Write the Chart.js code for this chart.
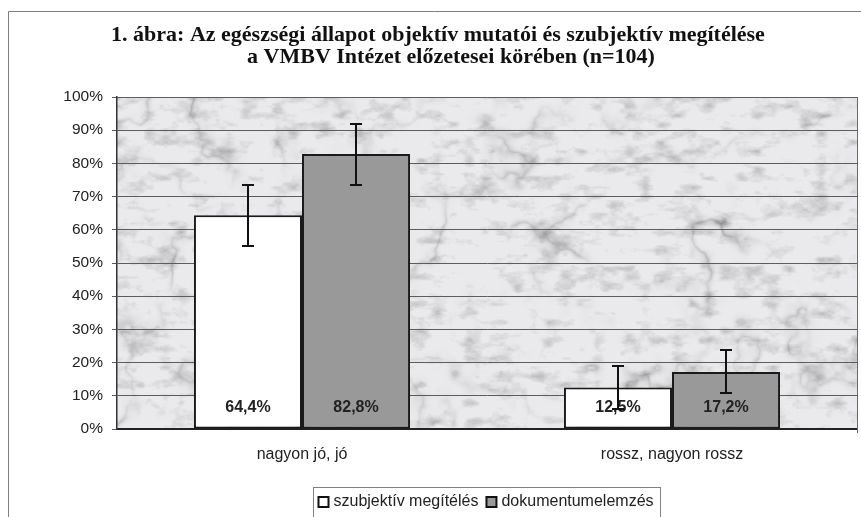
<!DOCTYPE html>
<html>
<head>
<meta charset="utf-8">
<script src="https://cdn.jsdelivr.net/npm/chart.js@4.4.1/dist/chart.umd.min.js"></script>
<style>
html, body { margin: 0; padding: 0; background: #fff; }
</style>
</head>
<body>
<canvas id="myChart" width="861" height="517"></canvas>
<script>
let categories = ['nagyon jó, jó', 'rossz, nagyon rossz']
let seriesNames = ['szubjektív megítélés', 'dokumentumelemzés']
let subjective = [64.4, 12.5]
let documents = [82.8, 17.2]
// error bar half widths
let subjectiveErr = [9.2, 6.4]
let documentsErr = [9.2, 6.5]
let yTicks = [0, 10, 20, 30, 40, 50, 60, 70, 80, 90, 100]
let titleLines = [
	'1. ábra: Az egészségi állapot objektív mutatói és szubjektív megítélése',
	'a VMBV Intézet előzetesei körében (n=104)'
]

const SANS = 'Arial, "Liberation Sans", sans-serif'
const SERIF = '"Liberation Serif", "Times New Roman", serif'

// --- marble background, deterministic value noise ---
function hash(ix, iy) {
	let h = Math.imul(ix, 374761393) + Math.imul(iy, 668265263)
	h = Math.imul(h ^ (h >>> 13), 1274126177)
	h = h ^ (h >>> 16)
	return (h & 0xffff) / 0xffff
}
function noise(x, y) {
	let ix = Math.floor(x), iy = Math.floor(y)
	let fx = x - ix, fy = y - iy
	let sx = fx * fx * (3 - 2 * fx), sy = fy * fy * (3 - 2 * fy)
	let a = hash(ix, iy), b = hash(ix + 1, iy)
	let c = hash(ix, iy + 1), d = hash(ix + 1, iy + 1)
	return a + (b - a) * sx + (c - a) * sy + (a - b - c + d) * sx * sy
}
function fbm(x, y) {
	let v = 0, amp = 0.5, f = 1
	for (let i = 0; i < 5; i++) {
		v += amp * noise(x * f, y * f)
		f *= 2
		amp *= 0.5
	}
	return v
}
let marbleCache = null
function marble(w, h) {
	if (marbleCache && marbleCache.width == w && marbleCache.height == h) return marbleCache
	let c = document.createElement('canvas')
	c.width = w
	c.height = h
	let cx = c.getContext('2d')
	let img = cx.createImageData(w, h)
	for (let y = 0; y < h; y++) {
		for (let x = 0; x < w; x++) {
			let n = fbm(x / 90, y / 90)
			let t = (x * 0.9 + y * 1.1) / 55 + n * 10
			let s = Math.abs(Math.sin(t))
			let streak = Math.pow(1 - s, 4) * Math.max(0, fbm(x / 50 + 9, y / 50 + 3) - 0.3) * 2
			let fine = Math.max(0, fbm(x / 16 + 50, y / 9 + 21) - 0.5) * 2
			let v = 234 - streak * 55 - fine * 55
			let i = (y * w + x) * 4
			img.data[i] = v
			img.data[i + 1] = v
			img.data[i + 2] = v + 3
			img.data[i + 3] = 255
		}
	}
	cx.putImageData(img, 0, 0)
	marbleCache = c
	return c
}

function fmt(v) {
	return v.toFixed(1).replace('.', ',') + '%'
}

const decor = {
	id: 'decor',
	beforeDraw(chart) {
		const ctx = chart.ctx
		const a = chart.chartArea
		ctx.save()
		ctx.fillStyle = '#fff'
		ctx.fillRect(0, 0, chart.width, chart.height)
		// outer frame
		ctx.strokeStyle = '#808080'
		ctx.lineWidth = 1
		ctx.beginPath()
		ctx.moveTo(8.5, chart.height)
		ctx.lineTo(8.5, 11.5)
		ctx.lineTo(chart.width, 11.5)
		ctx.stroke()
		ctx.drawImage(marble(Math.round(a.right - a.left), Math.round(a.bottom - a.top)), a.left, a.top)
		ctx.restore()
	},
	afterDatasetsDraw(chart) {
		const ctx = chart.ctx
		const a = chart.chartArea
		const y = chart.scales.y
		ctx.save()
		// plot right border
		ctx.strokeStyle = '#6a6a6a'
		ctx.lineWidth = 1
		ctx.beginPath()
		ctx.moveTo(a.right + 0.5, a.top)
		ctx.lineTo(a.right + 0.5, a.bottom + 4)
		ctx.stroke()
		// value labels
		ctx.font = 'bold 16px ' + SANS
		ctx.fillStyle = '#222'
		ctx.textAlign = 'center'
		ctx.textBaseline = 'middle'
		chart.data.datasets.forEach((ds, di) => {
			chart.getDatasetMeta(di).data.forEach((bar, i) => {
				ctx.fillText(fmt(ds.data[i]), bar.x, y.getPixelForValue(0) - 21)
			})
		})
		// error bars
		ctx.strokeStyle = '#111'
		ctx.lineWidth = 2
		chart.data.datasets.forEach((ds, di) => {
			chart.getDatasetMeta(di).data.forEach((bar, i) => {
				let v = ds.data[i], e = ds.errors[i]
				let hi = Math.round(y.getPixelForValue(v + e))
				let lo = Math.round(y.getPixelForValue(v - e))
				let x = Math.round(bar.x)
				ctx.beginPath()
				ctx.moveTo(x, hi)
				ctx.lineTo(x, lo)
				ctx.moveTo(x - 6, hi)
				ctx.lineTo(x + 6, hi)
				ctx.moveTo(x - 6, lo)
				ctx.lineTo(x + 6, lo)
				ctx.stroke()
			})
		})
		ctx.restore()
	},
	afterDraw(chart) {
		const ctx = chart.ctx
		const a = chart.chartArea
		ctx.save()
		// title
		ctx.font = 'bold 22px ' + SERIF
		ctx.fillStyle = '#111'
		ctx.textAlign = 'center'
		ctx.textBaseline = 'alphabetic'
		ctx.fillText(titleLines[0], 438, 41)
		ctx.fillText(titleLines[1], 451, 63)
		// legend
		ctx.font = '16px ' + SANS
		ctx.textAlign = 'left'
		ctx.textBaseline = 'middle'
		const sq = 10
		let widths = chart.data.datasets.map(ds => ctx.measureText(ds.label).width)
		let total = 5 + widths.reduce((s, w) => s + sq + 5 + w, 0) + 8 * (widths.length - 1) + 7
		let bx = Math.round((a.left + a.right) / 2 - total / 2) + 0.5
		let by = 487.5
		ctx.strokeStyle = '#808080'
		ctx.lineWidth = 1
		ctx.fillStyle = '#fff'
		ctx.fillRect(bx, by, total, 40)
		ctx.strokeRect(bx, by, total, 40)
		let x = bx + 5
		chart.data.datasets.forEach((ds, i) => {
			ctx.fillStyle = ds.backgroundColor
			ctx.fillRect(x, 497, sq, sq)
			ctx.strokeStyle = '#111'
			ctx.lineWidth = 2
			ctx.strokeRect(x, 497, sq, sq)
			ctx.fillStyle = '#222'
			ctx.fillText(ds.label, x + sq + 5, 502)
			x += sq + 5 + widths[i] + 8
		})
		ctx.restore()
	}
}

new Chart('myChart', {
	type: 'bar',
	data: {
		labels: categories,
		datasets: [
			{
				label: seriesNames[0],
				data: subjective,
				errors: subjectiveErr,
				backgroundColor: '#ffffff',
				borderColor: '#1a1a1a',
				borderWidth: 2,
				borderSkipped: false
			},
			{
				label: seriesNames[1],
				data: documents,
				errors: documentsErr,
				backgroundColor: '#999999',
				borderColor: '#1a1a1a',
				borderWidth: 2,
				borderSkipped: false
			}
		]
	},
	options: {
		responsive: false,
		animation: false,
		devicePixelRatio: 1,
		layout: { padding: { top: 97, right: 4, left: 0, bottom: 0 } },
		categoryPercentage: 0.584,
		barPercentage: 1,
		plugins: {
			legend: { display: false },
			title: { display: false },
			tooltip: { enabled: false }
		},
		scales: {
			x: {
				grid: { display: false, drawTicks: false },
				border: { display: true, color: '#222', width: 2 },
				ticks: { padding: 16, color: '#222', font: { family: SANS, size: 16 } },
				afterFit(scale) { scale.height = 88 }
			},
			y: {
				min: 0,
				max: 100,
				afterBuildTicks(scale) { scale.ticks = yTicks.map(v => ({ value: v })) },
				grid: { color: '#5c5c5c', lineWidth: 1, tickLength: 5 },
				border: { display: true, color: '#333', width: 1.5 },
				ticks: {
					padding: 9,
					color: '#222',
					font: { family: SANS, size: 15.5 },
					callback: v => v + '%'
				},
				afterFit(scale) { scale.width = 117 }
			}
		}
	},
	plugins: [decor]
})
</script>
</body>
</html>
